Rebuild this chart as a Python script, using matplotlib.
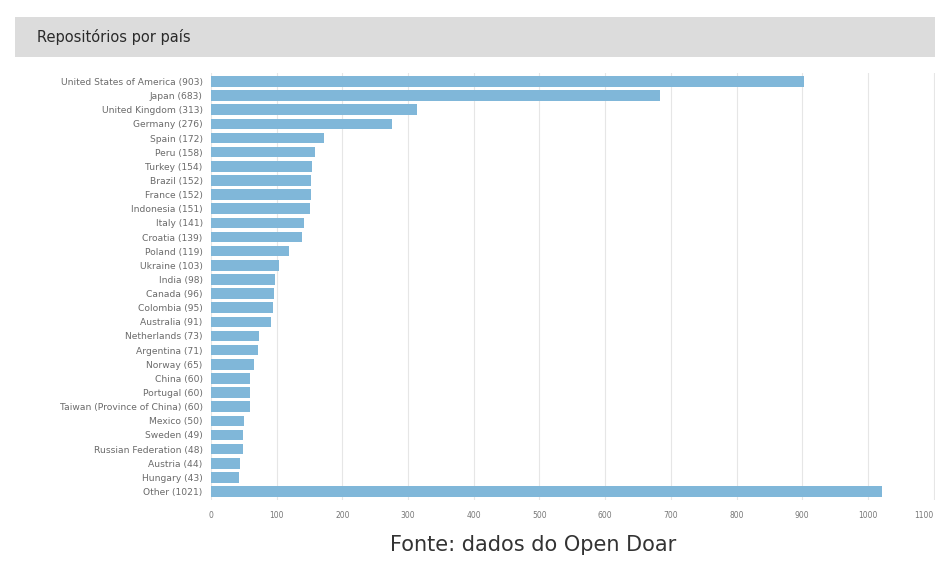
import numpy as np
import matplotlib.pyplot as plt

# repositories per country (Open Doar)
countries = ["United States of America", "Japan", "United Kingdom", "Germany", "Spain",
             "Peru", "Turkey", "Brazil", "France", "Indonesia", "Italy", "Croatia",
             "Poland", "Ukraine", "India", "Canada", "Colombia", "Australia",
             "Netherlands", "Argentina", "Norway", "China", "Portugal",
             "Taiwan (Province of China)", "Mexico", "Sweden", "Russian Federation",
             "Austria", "Hungary", "Other"]
counts = [903, 683, 313, 276, 172, 158, 154, 152, 152, 151, 141, 139,
          119, 103, 98, 96, 95, 91, 73, 71, 65, 60, 60, 60, 50, 49, 48, 44, 43, 1021]
xticks = [0, 100, 200, 300, 400, 500, 600, 700, 800, 900, 1000, 1100]

fig = plt.figure(figsize=(9.35, 5.62), dpi=100)

# gray title band
band = fig.add_axes([15/935, 1 - 57/562, 1 - 15/935, 40/562])
band.set_facecolor("#dcdcdc")
band.set_xticks([])
band.set_yticks([])
for s in band.spines.values():
    s.set_visible(False)
band.text(22/920, 0.5, "Repositórios por país", va="center", ha="left",
          fontsize=10.5, color="#2a2a2a")

ax = fig.add_axes([211/935, 1 - 500/562, 1 - 211/935, 427/562])
y = np.arange(len(countries))
ax.barh(y, counts, height=0.75, color="#80b7d9", zorder=2)
ax.set_ylim(len(countries) - 0.4, -0.6)
ax.set_xlim(0, 1102)
ax.set_yticks(y)
ax.set_yticklabels([f"{c} ({v})" for c, v in zip(countries, counts)],
                   fontsize=6.6, color="#6a6a6a")
ax.set_xticks(xticks)
ax.set_xticklabels([str(t) for t in xticks], fontsize=5.5, color="#777777")
ax.get_xticklabels()[-1].set_ha("right")
ax.tick_params(length=0, pad=8)
ax.tick_params(axis="y", pad=6)
ax.grid(axis="x", color="#e6e6e6", linewidth=0.8, zorder=0)
for s in ax.spines.values():
    s.set_visible(False)

fig.text(533/935, 1 - 545/562, "Fonte: dados do Open Doar", ha="center", va="center",
         fontsize=15, color="#333333")

plt.savefig("out.png", dpi=100)
